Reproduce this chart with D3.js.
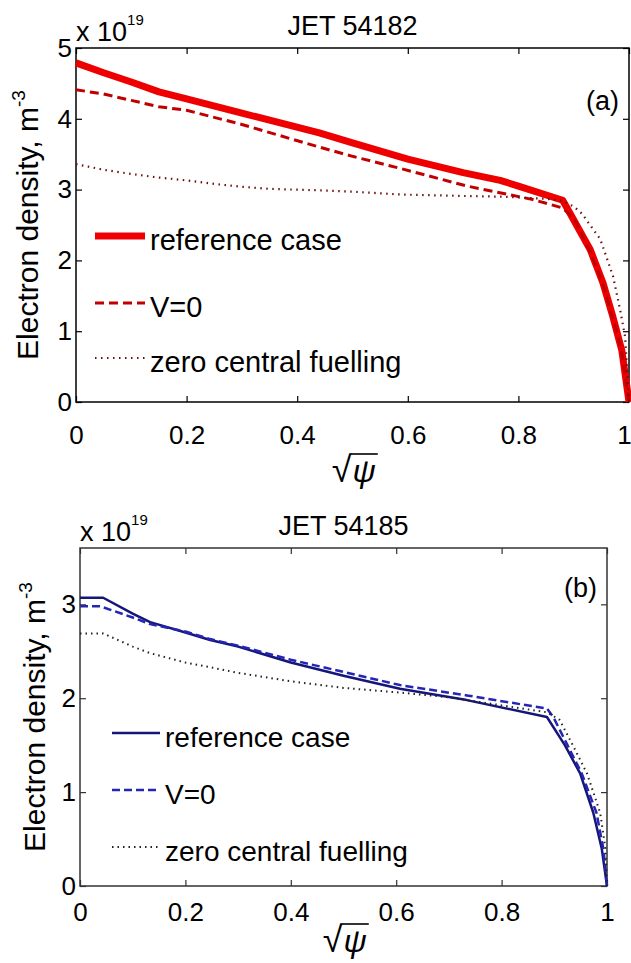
<!DOCTYPE html>
<html>
<head>
<meta charset="utf-8">
<script src="https://cdn.jsdelivr.net/npm/d3@7"></script>
<style>
body { margin: 0; background: #fff; }
svg { display: block; }
text { font-family: "Liberation Sans", Arial, sans-serif; fill: #000; }
</style>
</head>
<body>
<div id="chart"></div>
<script>
// panel (a) JET 54182
var xA_ref  = [0, 0.05, 0.1, 0.15, 0.2, 0.3, 0.44, 0.5, 0.6, 0.7, 0.767, 0.8, 0.88, 0.893, 0.93, 0.953, 0.971, 0.987, 1.0];
var yA_ref  = [4.79, 4.65, 4.52, 4.38, 4.28, 4.08, 3.8, 3.66, 3.43, 3.24, 3.13, 3.05, 2.85, 2.67, 2.15, 1.68, 1.2, 0.73, 0];
var xA_v0   = [0, 0.05, 0.1, 0.15, 0.2, 0.3, 0.44, 0.5, 0.586, 0.707, 0.826, 0.88, 0.9, 0.93, 0.953, 0.971, 0.987, 1.0];
var yA_v0   = [4.41, 4.35, 4.26, 4.17, 4.12, 3.92, 3.6, 3.47, 3.3, 3.05, 2.86, 2.74, 2.6, 2.12, 1.66, 1.18, 0.7, 0];
var xA_zero = [0, 0.05, 0.1, 0.15, 0.2, 0.25, 0.3, 0.35, 0.44, 0.5, 0.59, 0.7, 0.77, 0.85, 0.88, 0.9, 0.915, 0.948, 0.971, 0.984, 0.993, 1.0];
var yA_zero = [3.36, 3.28, 3.22, 3.17, 3.13, 3.08, 3.04, 3.01, 2.99, 2.97, 2.93, 2.91, 2.9, 2.87, 2.84, 2.76, 2.66, 2.3, 1.78, 1.3, 0.92, 0];

// panel (b) JET 54185
var xB_ref  = [0, 0.044, 0.1, 0.133, 0.2, 0.247, 0.3, 0.4, 0.5, 0.607, 0.734, 0.886, 0.92, 0.949, 0.974, 0.99, 1.0];
var yB_ref  = [3.07, 3.07, 2.9, 2.81, 2.7, 2.62, 2.55, 2.38, 2.24, 2.1, 1.98, 1.8, 1.5, 1.2, 0.78, 0.4, 0];
var xB_v0   = [0, 0.038, 0.1, 0.133, 0.2, 0.247, 0.3, 0.4, 0.5, 0.607, 0.734, 0.886, 0.898, 0.925, 0.952, 0.98, 0.993, 1.0];
var yB_v0   = [2.98, 2.98, 2.86, 2.79, 2.71, 2.63, 2.56, 2.41, 2.28, 2.14, 2.03, 1.89, 1.8, 1.5, 1.2, 0.78, 0.4, 0];
var xB_zero = [0, 0.044, 0.1, 0.133, 0.2, 0.247, 0.3, 0.4, 0.5, 0.607, 0.7, 0.886, 0.91, 0.935, 0.962, 0.987, 0.997, 1.0];
var yB_zero = [2.69, 2.69, 2.55, 2.48, 2.38, 2.33, 2.27, 2.18, 2.11, 2.06, 2.01, 1.85, 1.77, 1.5, 1.2, 0.78, 0.4, 0];

var legendNames = ["reference case", "V=0", "zero central fuelling"];
var xTicks = [0, 0.2, 0.4, 0.6, 0.8, 1];
var yTicksA = [0, 1, 2, 3, 4, 5];
var yTicksB = [0, 1, 2, 3];

var svg = d3.select("#chart").append("svg")
    .attr("width", 631)
    .attr("height", 963);

function zip(xs, ys) {
    return xs.map(function(d, i) { return [d, ys[i]]; });
}

function drawPanel(p) {
    var g = svg.append("g");
    var x = d3.scaleLinear().domain([0, 1]).range([p.left, p.right]);
    var y = d3.scaleLinear().domain([0, p.ymax]).range([p.bottom, p.top]);
    var fmt = function(d) { return d3.format("")(d); };

    // axes (ticks inward, matlab box)
    var xb = g.append("g").attr("transform", "translate(0," + p.bottom + ")")
        .call(d3.axisBottom(x).tickValues(xTicks).tickFormat(fmt).tickSize(-6).tickSizeOuter(0).tickPadding(p.xPad));
    var xt = g.append("g").attr("transform", "translate(0," + p.top + ")")
        .call(d3.axisTop(x).tickValues(xTicks).tickFormat("").tickSize(-6).tickSizeOuter(0));
    var yl = g.append("g").attr("transform", "translate(" + p.left + ",0)")
        .call(d3.axisLeft(y).tickValues(p.yTicks).tickFormat(fmt).tickSize(-6).tickSizeOuter(0).tickPadding(4));
    var yr = g.append("g").attr("transform", "translate(" + p.right + ",0)")
        .call(d3.axisRight(y).tickValues(p.yTicks).tickFormat("").tickSize(-6).tickSizeOuter(0));
    [xb, xt, yl, yr].forEach(function(a) {
        a.select(".domain").remove();
        a.selectAll("line").attr("stroke", p.axisColor).attr("stroke-width", 1.2);
        a.selectAll("text").attr("font-size", "26px").attr("font-family", "Liberation Sans, Arial, sans-serif").attr("fill", "#000");
    });
    // keep the last tick label inside the page
    xb.selectAll("text").filter(function(d) { return d === 1; }).attr("dx", p.lastDx);

    g.append("rect")
        .attr("x", p.left).attr("y", p.top)
        .attr("width", p.right - p.left).attr("height", p.bottom - p.top)
        .attr("fill", "none").attr("stroke", p.axisColor).attr("stroke-width", 1.5);

    // curves
    var line = d3.line().x(function(d) { return x(d[0]); }).y(function(d) { return y(d[1]); });
    p.series.forEach(function(s) {
        g.append("path")
            .datum(s.data)
            .attr("d", line)
            .attr("fill", "none")
            .attr("stroke", s.color)
            .attr("stroke-width", s.width)
            .attr("stroke-dasharray", s.dash)
            .attr("stroke-linejoin", "round");
    });

    // legend
    p.series.forEach(function(s, i) {
        var ly = p.legY[i];
        g.append("line")
            .attr("x1", p.legX0).attr("x2", p.legX1)
            .attr("y1", ly).attr("y2", ly)
            .attr("stroke", s.color)
            .attr("stroke-width", s.width)
            .attr("stroke-dasharray", s.dash);
        g.append("text")
            .attr("x", p.legX1 + 5).attr("y", ly + 14)
            .attr("font-size", p.legFont + "px")
            .text(legendNames[i]);
    });

    // title, exponent, panel tag
    g.append("text")
        .attr("x", (p.left + p.right) / 2).attr("y", p.top - 13)
        .attr("text-anchor", "middle").attr("font-size", "27px")
        .text(p.title);
    var ex = g.append("text")
        .attr("x", p.left).attr("y", p.top - 7)
        .attr("font-size", "27px");
    ex.append("tspan").text("x 10");
    ex.append("tspan").attr("dy", -16).attr("font-size", "15px").text("19");

    g.append("text")
        .attr("x", p.right - 10).attr("y", p.tagY)
        .attr("text-anchor", "end").attr("font-size", "27px")
        .text(p.tag);

    // y label
    var cy = (p.top + p.bottom) / 2;
    var yt = g.append("text")
        .attr("transform", "translate(" + p.yLabX + "," + cy + ") rotate(-90)")
        .attr("text-anchor", "middle").attr("font-size", "30px");
    yt.append("tspan").text("Electron density, m");
    yt.append("tspan").attr("dy", -13).attr("font-size", "19px").text("-3");

    // x label sqrt(psi)
    var cx = (p.left + p.right) / 2;
    g.append("text")
        .attr("x", cx - 1).attr("y", p.xLabY)
        .attr("text-anchor", "end").attr("font-size", "36px")
        .text("\u221A");
    var psi = g.append("text")
        .attr("x", cx).attr("y", p.xLabY)
        .attr("font-size", "32px").attr("font-style", "italic")
        .attr("font-family", "DejaVu Serif, serif")
        .text("\u03C8");
    var bb = psi.node().getBBox();
    g.append("line")
        .attr("x1", cx - 2).attr("x2", bb.x + bb.width + 2)
        .attr("y1", p.xLabY - 28).attr("y2", p.xLabY - 28)
        .attr("stroke", "#000").attr("stroke-width", 1.6);
}

drawPanel({
    left: 76, right: 629, top: 48, bottom: 402, ymax: 5,
    yTicks: yTicksA, xPad: 24, axisColor: "#000", lastDx: -5,
    title: "JET 54182", tag: "(a)", tagY: 110,
    yLabX: 38, xLabY: 482,
    legX0: 95, legX1: 145, legY: [236, 303, 358], legFont: 29,
    series: [
        {data: zip(xA_ref, yA_ref), color: "#ee0000", width: 7, dash: null},
        {data: zip(xA_v0, yA_v0), color: "#c00000", width: 3, dash: "9,5"},
        {data: zip(xA_zero, yA_zero), color: "#6a1010", width: 2.2, dash: "1.5,4.5"}
    ]
});

drawPanel({
    left: 80, right: 607, top: 548, bottom: 886, ymax: 3.6,
    yTicks: yTicksB, xPad: 17, axisColor: "#333", lastDx: 0,
    title: "JET 54185", tag: "(b)", tagY: 597,
    yLabX: 45, xLabY: 952,
    legX0: 112, legX1: 160, legY: [733, 790, 847], legFont: 28,
    series: [
        {data: zip(xB_ref, yB_ref), color: "#15157a", width: 2.5, dash: null},
        {data: zip(xB_v0, yB_v0), color: "#2525b5", width: 2.5, dash: "8,4"},
        {data: zip(xB_zero, yB_zero), color: "#222", width: 2, dash: "1.5,4"}
    ]
});
</script>
</body>
</html>
